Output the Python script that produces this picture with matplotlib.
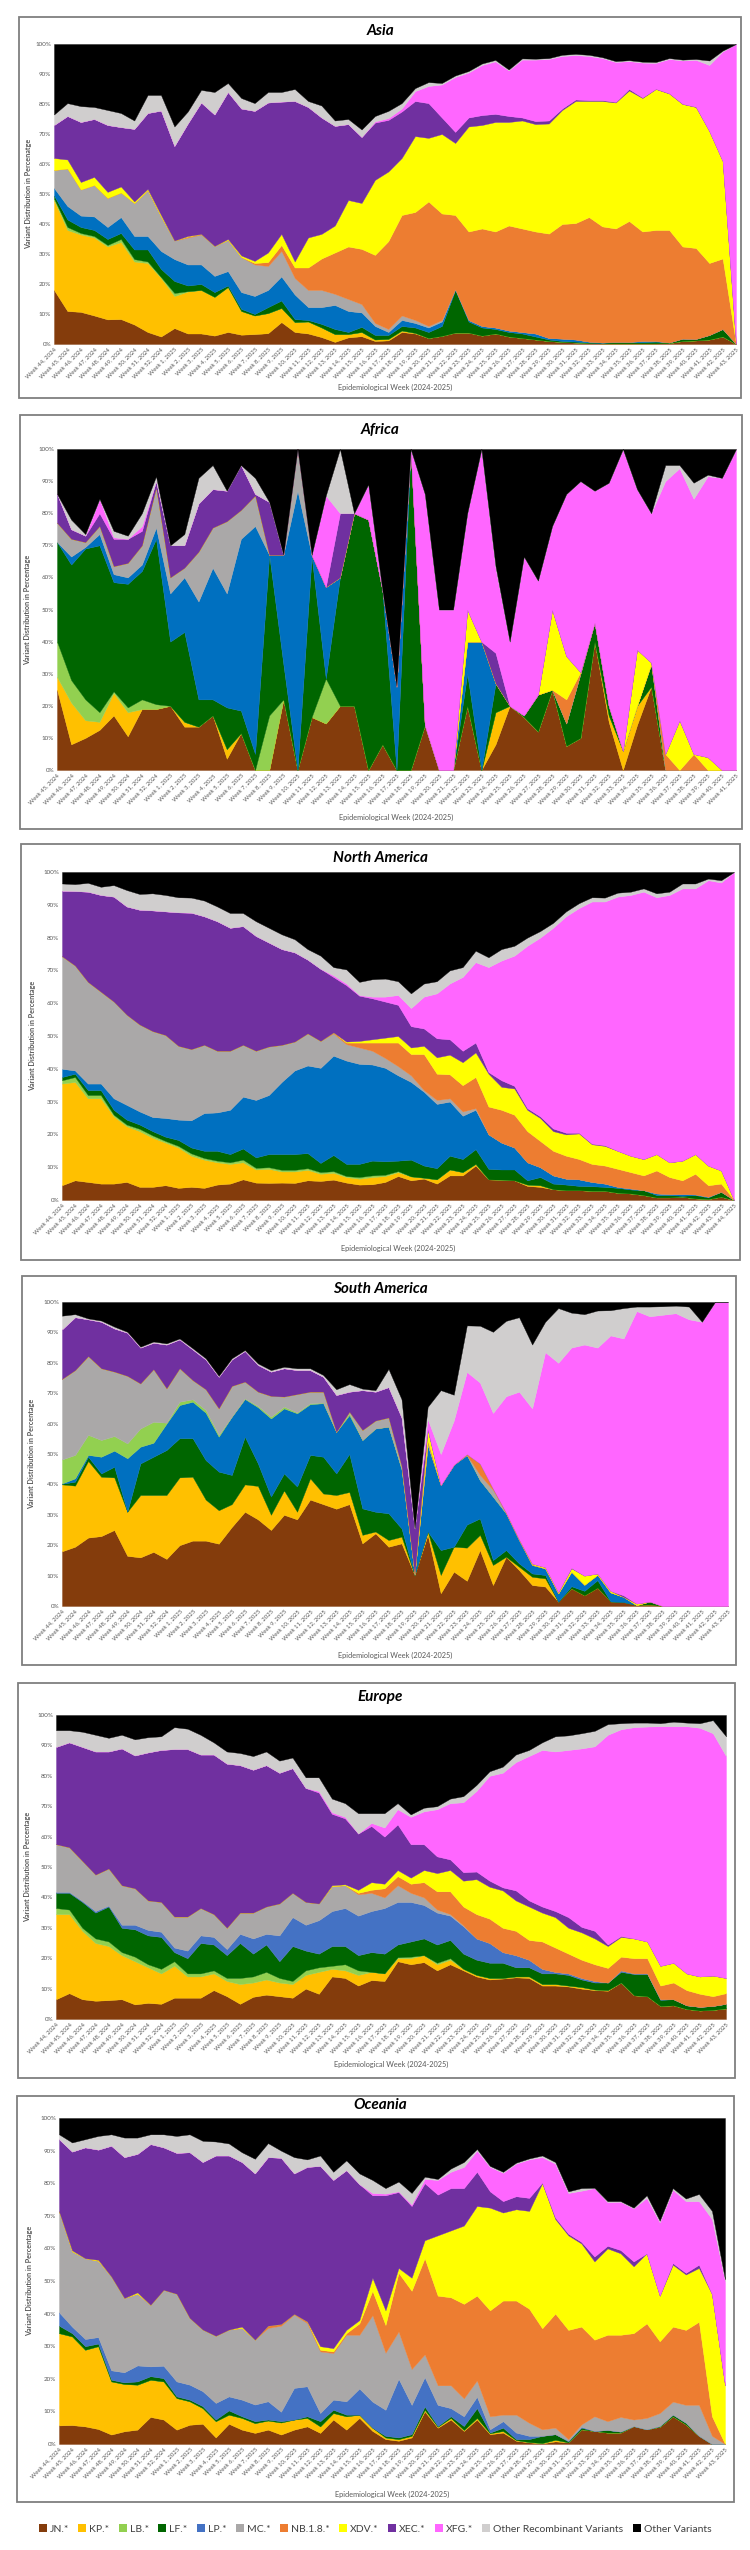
import matplotlib
matplotlib.use("Agg")
import matplotlib.pyplot as plt
from matplotlib.patches import Rectangle, Patch

plt.rcParams['font.family'] = ['Lato', 'DejaVu Sans']

SERIES = ['JN.*', 'KP.*', 'LB.*', 'LF.*', 'LP.*', 'MC.*', 'NB.1.8.*', 'XDV.*',
          'XEC.*', 'XFG.*', 'Other Recombinant Variants', 'Other Variants']
COLORS = {'JN.*': '#843C0C', 'KP.*': '#FFC000', 'LB.*': '#92D050', 'LF.*': '#006600',
          'LP.*': '#0070C0', 'MC.*': '#AAA8A8', 'NB.1.8.*': '#ED7D31', 'XDV.*': '#FFFF00',
          'XEC.*': '#7030A0', 'XFG.*': '#FF66FF', 'Other Recombinant Variants': '#D0CECE',
          'Other Variants': '#000000'}
LP_LIGHT = '#4472C4'


def week_labels(first_2024, last_2025):
    return ([f'Week {w}, 2024' for w in range(first_2024, 53)] +
            [f'Week {w}, 2025' for w in range(1, last_2025 + 1)])


WEEKS_ASIA = week_labels(44, 43)
WEEKS_AFRICA = week_labels(45, 41)
WEEKS_NAM = week_labels(44, 44)
WEEKS_SAM = week_labels(44, 43)
WEEKS_EUR = week_labels(44, 43)
WEEKS_OCE = week_labels(44, 43)

# ---------------- Asia ----------------
ASIA_JN = [18, 11, 10.7, 9.5, 8.2, 8.3, 6.5, 4, 2.5, 5.3,
           3.5, 3.5, 2.8, 4, 3.1, 3.3, 3.6, 7.3, 4, 3.5,
           2.3, 0.7, 2.2, 2.6, 1, 1.2, 4, 3.5, 2, 2.7,
           3.8, 3.8, 2.8, 3.5, 2.5, 2, 1.5, 1, 0.7, 0.5,
           0.3, 0.2, 0.2, 0.2, 0.2, 0.2, 0.3, 1, 1.2, 1.5,
           2.5, 0]
ASIA_KP = [30, 27, 25.8, 26, 24.3, 25.7, 21, 23, 19.5, 10.7,
           14, 14.5, 12.9, 15, 7.9, 6.2, 6.7, 4.7, 3.3, 4,
           3.2, 2.6, 1.1, 1.4, 0.5, 0.5, 0.5, 0.2, 0, 0,
           0, 0, 0, 0, 0, 0, 0, 0, 0, 0,
           0, 0, 0, 0, 0, 0, 0, 0, 0, 0,
           0, 0]
ASIA_LB = [0.5, 1, 0.5, 0.5, 0.5, 1, 0.8, 0.5, 0.3, 1,
           0.1, 0, 0, 0, 0, 0, 0, 0, 0, 0,
           0, 0, 0, 0, 0, 0, 0, 0, 0, 0,
           0, 0, 0, 0, 0, 0, 0, 0, 0, 0,
           0, 0, 0, 0, 0, 0, 0, 0, 0, 0,
           0, 0]
ASIA_LF = [1, 2.5, 2, 2, 2, 2, 3.2, 4, 2.7, 4,
           1.9, 2, 1.6, 0.5, 0.7, 0.5, 2, 2.5, 1, 0.5,
           1.2, 1.7, 0.7, 1.7, 1.5, 1.3, 1.5, 1.8, 2, 3.3,
           14.2, 3.7, 2.7, 1.5, 1.5, 1.5, 1, 0.5, 0.3, 0.3,
           0.2, 0.2, 0.4, 0.4, 0.4, 0.6, 0.2, 0.8, 0.5, 1.5,
           2.5, 0]
ASIA_LP = [2.5, 4.5, 3.8, 4.5, 4, 5.3, 4.5, 4.5, 6, 7.3,
           7, 6.5, 5.4, 4.8, 5.6, 6, 5.7, 8, 8.2, 4.3,
           5.6, 8, 7, 4.8, 3, 1, 2, 1.5, 1.5, 1.5,
           0.3, 0.5, 0.5, 0.5, 0.5, 0.5, 1, 0.5, 0.8, 0.7,
           0.3, 0.1, 0.1, 0.1, 0.4, 0.2, 0, 0, 0, 0,
           0, 0]
ASIA_MC = [6, 12.5, 8.7, 10.5, 9.7, 8.2, 11, 15.3, 11.5, 6.2,
           9, 10, 10, 10.4, 11.7, 10.5, 8, 8.5, 5.5, 5.7,
           5.7, 3.7, 4, 2.8, 1, 1, 1.5, 1, 0.5, 0.5,
           0, 0, 0, 0, 0, 0, 0, 0, 0, 0,
           0, 0, 0, 0, 0, 0, 0, 0, 0, 0,
           0, 0]
ASIA_NB = [0, 0, 0, 0, 0, 0, 0, 0, 0, 0,
           0.3, 0.2, 0, 0, 0, 0.5, 1.3, 2, 3.5, 7.5,
           10.5, 13.8, 17.5, 18.4, 22.7, 29.3, 33.5, 36, 41.5, 35.5,
           24.7, 29.5, 32.5, 32, 35, 34.5, 34, 34.8, 38.2, 38.8,
           41.5, 38.7, 37.8, 40.3, 36.5, 37, 37.5, 30.7, 30.3, 24,
           23.5, 0]
ASIA_XDV = [4, 3, 2.5, 2.7, 2, 2, 0.5, 0.4, 0.5, 0,
            0.2, 0, 0, 0.3, 0.5, 0.7, 3.2, 3.7, 2, 10,
            8.2, 9, 15.5, 15.3, 25, 23.2, 19, 25.3, 21.2, 26.5,
            24, 35, 34.5, 36.5, 34.5, 36, 35.8, 36.7, 38, 40.7,
            38.7, 41.8, 42, 43.5, 44.5, 47, 45.5, 47.5, 47, 44,
            32.5, 0]
ASIA_XEC = [11, 14.5, 20, 19.3, 22.3, 19.8, 24.2, 25.3, 34.8, 31.5,
            37.5, 43.8, 43.8, 49, 49, 50, 50, 44.1, 53.5, 43.5,
            38.8, 33.2, 25.3, 22, 19.1, 17.2, 15.5, 11.7, 11.6, 5.5,
            3.7, 3, 3.3, 2.7, 2, 1, 1, 1, 0.5, 0.5,
            0.3, 0.3, 0.2, 0.5, 0.2, 0.1, 0.1, 0.1, 0.1, 0,
            0, 0]
ASIA_XFG = [0, 0, 0, 0, 0, 0, 0, 0, 0, 0,
            0, 0, 0, 0, 0, 0, 0, 0, 0, 0,
            0, 0, 0, 0, 0.4, 0.6, 1, 3.3, 5.7, 11,
            18.3, 15, 16.7, 17.5, 15.2, 19.3, 20.5, 20.5, 17.5, 14.8,
            14.7, 14, 13.3, 9.3, 11.6, 8.6, 11.4, 14.4, 15.6, 22,
            36.5, 100]
ASIA_OR = [3.5, 4.3, 5.3, 4, 5, 4.7, 2.8, 6, 5.2, 6.5,
           4, 4.2, 7.5, 3, 3.5, 2.6, 3.5, 3.2, 4, 2,
           4, 1.8, 1.7, 2.5, 1.8, 2.4, 1.8, 1, 1.3, 0.5,
           0.5, 0.5, 0.5, 0.5, 0.3, 0.4, 0.3, 0.3, 0.4, 0.4,
           0.4, 0.3, 0.3, 0.3, 0.3, 0.3, 0.3, 0.3, 0.3, 1.5,
           0.3, 0]
ASIA_OTH = [23.5, 19.7, 20.7, 21, 22, 23, 25.5, 17, 17, 27.5,
            22.5, 15.3, 16, 13, 18, 19.7, 16, 16, 15, 19,
            20.5, 25.5, 25, 28.5, 24, 22.3, 19.7, 14.7, 12.7, 13,
            10.5, 9, 6.5, 5.3, 8.5, 4.8, 4.9, 4.7, 3.6, 3.3,
            3.6, 4.4, 5.7, 5.4, 5.9, 6, 4.7, 5.2, 5, 5.5,
            2.2, 0]

# ---------------- Africa ----------------
AFR_JN = [25, 8, 10, 12.5, 17, 10.5, 19, 19, 20, 13.5,
          13.5, 17, 3.5, 11.5, 0, 0, 22, 0, 16.5, 14.5,
          20, 20, 0, 8, 0, 0, 14, 0, 0, 20,
          0, 8, 20, 16.5, 12, 25, 7.5, 10, 40, 15,
          0, 14, 26, 0, 0, 0, 0, 0, 0]
AFR_KP = [4, 13, 5.5, 2.5, 7, 7.5, 0, 0, 0, 1.5,
          0, 0, 3, 0, 0, 0, 0, 0, 0, 0,
          0, 0, 0, 0, 0, 0, 0, 0, 0, 0,
          0, 10, 0, 0, 0, 0, 0, 0, 0, 2,
          6, 6, 0, 0, 0, 0, 0, 0, 0]
AFR_LB = [11, 7, 6.5, 3, 0.5, 1.5, 3, 1.5, 0, 0,
          0, 0, 0, 0, 0, 17, 0, 0, 0, 14,
          0, 0, 0, 0, 0, 0, 0, 0, 0, 0,
          0, 0, 0, 0, 0, 0, 0, 0, 0, 0,
          0, 0, 0, 0, 0, 0, 0, 0, 0]
AFR_LF = [31, 36, 47, 52, 34, 38.5, 40, 51.5, 20, 28,
          8.5, 5, 13, 7, 5, 50, 11, 0, 50, 0,
          40, 60, 78, 48, 0, 100, 0, 0, 0, 10,
          0, 9, 0, 0.5, 11.5, 0, 7, 20, 6, 3,
          0, 0, 7, 0, 0, 0, 0, 0, 0]
AFR_LP = [0, 2.5, 0.5, 3.5, 2.5, 2, 2, 3.5, 15, 17,
          30.5, 41, 35.5, 53.5, 71, 0, 34, 87, 0.5, 28.5,
          0, 0, 0, 0, 26, 0, 0, 0, 0, 10,
          40, 0, 0, 0, 0, 0, 0, 0, 0, 0,
          0, 0, 0, 0, 0, 0, 0, 0, 0]
AFR_MC = [6, 5.5, 1.5, 2.5, 2.5, 4.5, 6, 12.5, 5, 3,
          15.5, 12.5, 22.5, 9, 9.5, 0, 0, 13, 0, 0,
          0, 0, 0, 0, 0, 0, 0, 0, 0, 0,
          0, 0, 0, 0, 0, 0, 0, 0, 0, 0,
          0, 0, 0, 0, 0, 0, 0, 0, 0]
AFR_NB = [0, 0, 0, 0, 0, 0, 0, 0, 0, 0,
          0, 0, 0, 0, 0, 0, 0, 0, 0, 0,
          0, 0, 0, 0, 0, 0, 0, 0, 0, 0,
          0, 0, 0, 0, 0, 0, 7.5, 0.5, 0, 0,
          0, 0, 0, 5, 0, 5, 0, 0, 0]
AFR_XDV = [0, 0, 0, 0, 0, 0, 0, 0, 0, 0,
           0, 0, 0, 0, 0, 0, 0, 0, 0, 0,
           0, 0, 0, 0, 0, 0, 0, 0, 0, 10,
           0, 0, 0, 0, 0, 25, 13.5, 0, 0, 0,
           0, 17.5, 0.5, 0, 15.5, 0, 4, 0, 0]
AFR_XEC = [9, 3, 2, 4, 8.5, 7.5, 4.5, 2, 10, 7,
           15, 12, 9.5, 14, 0.5, 16.5, 0, 0, 0, 0,
           20, 0, 0, 0, 0, 0, 0, 0, 0, 0,
           0, 9.5, 0, 0, 0, 0, 0, 0, 0, 0,
           0, 0, 0, 0, 0, 0, 0, 0, 0]
AFR_XFG = [0, 0, 0, 4.5, 0.5, 0, 1.5, 0, 0, 0,
           0, 0, 0, 0, 0, 0, 0, 0, 0, 28.5,
           0, 0, 11, 0, 0, 0, 72, 50, 50, 30,
           60, 26.5, 20, 49.5, 35.5, 26, 50.5, 59.5, 41, 69.5,
           94, 50, 46.5, 85, 78.5, 79.5, 87.5, 91, 100]
AFR_OR = [0, 3, 0.5, 0, 2, 1, 4, 1.5, 0, 3.5,
          8, 7.5, 0, 0, 5, 0, 0, 0, 0, 0,
          20, 0, 0, 0, 0, 0, 0, 0, 0, 0,
          0, 0.5, 0, 0, 0, 0, 0, 0, 0, 0,
          0, 0, 0, 5, 1, 5, 0.5, 0, 0]
AFR_OTH = [14, 22, 26.5, 15.5, 25.5, 27, 20, 8.5, 30, 26.5,
           9, 5, 13, 5, 9, 16.5, 33, 0, 33, 14.5,
           0, 20, 11, 44, 74, 0, 14, 50, 50, 20,
           0, 36.5, 60, 33.5, 41, 24, 14, 10, 13, 10.5,
           0, 12.5, 20, 5, 5, 10.5, 8, 9, 0]

# ---------------- North America ----------------
NAM_JN = [4.5, 6, 5.5, 5, 5, 5.5, 4, 4, 4.5, 3.7,
          4, 3.7, 4.7, 5, 6.3, 5.3, 5.2, 5.3, 5.2, 6,
          5.8, 6.2, 5.3, 4.7, 4.8, 5.5, 7.3, 6, 6.5, 5,
          7.5, 7.5, 10.5, 6.3, 6.2, 6, 4.3, 4, 3.3, 3,
          3, 2.8, 2.8, 2.2, 2, 1.5, 0.8, 0.8, 1, 0.5,
          0.3, 1, 0]
NAM_KP = [31, 30, 25.5, 26, 20.5, 17, 17, 15, 13, 12.3,
          9.5, 8.6, 6.8, 6, 5.2, 4, 4.3, 3.4, 3.5, 3.2,
          2.2, 2.1, 1.7, 1.8, 2.2, 1.8, 1.2, 1.2, 0.3, 1.3,
          1.8, 1, 0.5, 0, 0, 0, 0.4, 0.5, 0, 0,
          0, 0, 0, 0, 0, 0, 0, 0, 0, 0,
          0, 0, 0]
NAM_LB = [1, 1.5, 1, 1, 0.5, 0.5, 0.7, 0.7, 0.5, 0.5,
          0.7, 0.5, 0.5, 0.5, 0.8, 0.5, 0.5, 0.5, 0.5, 0.5,
          0.5, 0.5, 0.3, 0.5, 0.5, 0.4, 0.3, 0, 0, 0,
          0, 0, 0, 0, 0, 0, 0, 0, 0, 0,
          0, 0, 0, 0, 0, 0, 0, 0, 0, 0,
          0, 0, 0]
NAM_LF = [1, 1, 1.5, 1.5, 1.5, 1.5, 1.3, 1.3, 1.3, 1.8,
          1.8, 2.2, 3, 2.5, 3.4, 3.2, 4, 4.8, 4.8, 4.6,
          2.8, 4.9, 3.7, 4, 4.5, 4.1, 3.2, 5.1, 3.7, 3.4,
          4.2, 4, 4.5, 3.2, 3.1, 3.3, 1.3, 2.5, 1.7, 1.7,
          1.3, 1.4, 1.2, 1.5, 1.2, 1.5, 0.7, 0.7, 0.3, 1,
          0.5, 1.5, 0]
NAM_LP = [2.5, 1, 2, 2, 3.5, 4.5, 4, 4.3, 5.7, 6.2,
          8.3, 11.5, 11.7, 13.5, 15.8, 17.5, 18, 22, 25.5, 26.7,
          29, 30.3, 31.5, 30.5, 29.3, 28.5, 26, 23.7, 22.5, 19.6,
          16.5, 13.2, 12, 10.5, 8.2, 6.7, 5.5, 3, 2.5, 1.8,
          2, 1.3, 1, 0.3, 0.3, 0, 0.5, 0.3, 0.5, 0.2,
          0.2, 0, 0]
NAM_MC = [34.3, 32, 31, 28, 29.5, 27.5, 26.5, 26.2, 25.3, 22.5,
          21.7, 20.8, 18.8, 18, 15.8, 15, 14.8, 11.3, 8.8, 9.8,
          8.2, 6.8, 5, 5, 4.2, 3, 2.8, 2, 0.5, 1.2,
          1, 1.3, 0.5, 0, 0, 0, 0, 0, 0, 0,
          0, 0, 0, 0, 0, 0, 0, 0, 0, 0,
          0, 0, 0]
NAM_NB = [0, 0, 0, 0, 0, 0, 0, 0, 0, 0,
          0, 0, 0, 0, 0, 0, 0, 0, 0, 0,
          0, 0.3, 0.5, 1.5, 2.5, 4.7, 7.2, 6.5, 11, 8,
          7.3, 8, 9.5, 8.5, 10, 10, 9.5, 8, 7.5, 7,
          6.2, 5.5, 5.5, 5.5, 5, 4.5, 7, 5.2, 4.2, 6.3,
          3.5, 2.5, 0]
NAM_XDV = [0, 0, 0, 0, 0, 0, 0, 0, 0, 0,
           0, 0, 0, 0, 0, 0, 0, 0, 0, 0,
           0, 0, 0.3, 0.5, 1, 1.5, 2, 2, 2.5, 5,
           6, 7, 7.5, 10, 7, 8, 6.5, 7, 6, 6.5,
           7.8, 6, 6, 5.5, 5, 5, 5, 4.5, 6, 6,
           6, 4, 0]
NAM_XEC = [20, 22.7, 27.5, 29.5, 32, 33, 35, 36.8, 37.7, 40.7,
           41.6, 39.2, 39.5, 37.5, 36.2, 35, 31.7, 29.2, 27.2, 22.5,
           22, 16.9, 17.2, 13.8, 12.5, 11, 9.5, 6.5, 5.3, 5.8,
           4.7, 3.5, 3, 0.5, 2, 0.8, 0.5, 0.5, 0.8, 0.5,
           0.2, 0.2, 0.2, 0, 0, 0, 0, 0, 0, 0,
           0, 0, 0]
NAM_XFG = [0, 0, 0, 0, 0, 0, 0, 0, 0, 0,
           0, 0, 0, 0, 0, 0, 0, 0, 0, 0,
           0, 0.5, 0.5, 0.2, 0.5, 1.5, 3, 5.5, 9.7, 13.7,
           17, 22.5, 24.5, 32, 36.5, 39.7, 49.5, 54.5, 61.2, 66,
           68.5, 73.8, 74.3, 77.5, 79.5, 81.5, 78.3, 81.5, 83, 81,
           87, 87.8, 100]
NAM_OR = [2.2, 2.1, 2.7, 2.5, 3.5, 5, 4.8, 5.2, 5, 4.6,
          4.6, 4.8, 4.5, 4.5, 4, 4.5, 4.5, 4.5, 4, 3.2,
          4, 2.5, 4.3, 4, 5.3, 5.5, 4.2, 4.5, 4, 3.7,
          4, 3, 3.5, 3, 3.5, 3, 2.5, 2, 1.5, 1.5,
          1.5, 1.3, 1.2, 1.2, 1, 1, 1.2, 1, 1.5, 1.5,
          0.5, 0.7, 0]
NAM_OTH = [3.5, 3.7, 3.3, 4.5, 4, 5.5, 6.7, 6.5, 7, 7.7,
           7.8, 8.7, 10.5, 12.5, 12.5, 15, 17, 19, 20.5, 23.5,
           25.5, 29, 29.7, 33.5, 32.7, 32.5, 33.3, 37, 34, 33.3,
           30, 29, 24, 26, 23.5, 22.5, 20, 18, 15.5, 12,
           9.5, 7.7, 7.8, 6.3, 6, 5, 6.5, 6, 3.5, 3.5,
           2, 2.5, 0]

# ---------------- South America ----------------
SAM_JN = [18, 19.5, 22.5, 23, 25, 16.5, 16, 17.8, 15.5, 20,
          21.5, 21.5, 20.5, 26, 31, 28.5, 25, 30, 28.5, 35,
          33.5, 32, 33.5, 20.6, 23.9, 19.5, 20.6, 10.2, 23.4, 4.2,
          11.3, 8.3, 18.4, 6.9, 16.2, 11.8, 6.9, 6.4, 1.4, 5.8,
          3.5, 6, 1.5, 1.3, 0.3, 0.5, 0, 0, 0, 0,
          0, 0]
SAM_KP = [22, 20.1, 25.2, 19.5, 17.3, 14.5, 20.5, 18.7, 21, 22.3,
          21, 13.5, 11, 7.5, 9, 11, 5, 8, 2.5, 7,
          3.5, 4.5, 4, 2.8, 0.6, 2.2, 2.2, 0, 1.1, 6,
          8.2, 10.9, 5, 6.6, 0, 1.1, 2.7, 2.7, 0, 0,
          0, 0, 0, 0, 0, 0, 0, 0, 0, 0,
          0, 0]
SAM_LF = [0.2, 1.3, 1.4, 1.1, 3.5, 0, 10.4, 12.6, 14.8, 12.9,
          12.7, 13, 12.7, 9.6, 15.7, 7.4, 6, 5.6, 8.3, 7.7,
          12.1, 7.1, 12.5, 8.7, 6.5, 8.8, 2.7, 0, 0, 8.2,
          0, 7.6, 5.4, 1.6, 2.2, 1.1, 1.1, 1.1, 0, 0.7,
          1.5, 2.5, 0, 0, 0, 1, 0, 0, 0, 0,
          0, 0]
SAM_LP = [0.1, 1.1, 0.6, 5.5, 5.3, 17.6, 5.5, 4.6, 8.7, 10.9,
          12, 15.6, 11.5, 19.2, 12.4, 18.5, 25.7, 21.4, 24.1, 16.7,
          17.6, 13.7, 12.8, 22.5, 27.4, 28.5, 19.5, 0.3, 28.5, 21.4,
          27, 22.9, 12.6, 20.9, 12.1, 7.7, 2.8, 2.2, 2.8, 4.8,
          2, 1.8, 3, 1.7, 0, 0, 0, 0, 0, 0,
          0, 0]
SAM_LB = [7.9, 7.7, 6.6, 5.5, 4.8, 4.9, 6, 6.9, 0.3, 1.1,
          0.8, 0.9, 0.6, 0, 0.2, 0.4, 0.6, 0.6, 0.3, 0.3,
          0.2, 0, 0.6, 0, 0, 0, 0, 0, 0, 0,
          0, 0, 0, 0, 0, 0, 0, 0, 0, 0,
          0, 0, 0, 0, 0, 0, 0, 0, 0, 0,
          0, 0]
SAM_MC = [26.5, 27.9, 25.9, 23.6, 21.2, 22.2, 14.8, 17.3, 11.3, 11,
          6.3, 6.8, 8.7, 10.1, 5.5, 4.7, 6.8, 3.3, 6, 3.8,
          3.6, 0, 0.5, 3.3, 2.6, 3, 1, 0, 0.5, 0,
          0, 0, 1.7, 2.2, 0, 0, 0, 0, 0, 0,
          0, 0, 0, 0, 0, 0, 0, 0, 0, 0,
          0, 0]
SAM_NB = [0, 0, 0, 0, 0, 0, 0, 0, 0, 0,
          0, 0, 0, 0, 0, 0, 0, 0, 0, 0,
          0, 0, 0, 0, 0, 0, 0, 0, 1, 0,
          0, 0.3, 3.8, 0.5, 0.3, 0.3, 0.2, 0, 0, 0,
          0, 0, 0, 0, 0, 0, 0, 0, 0, 0,
          0, 0]
SAM_XDV = [0, 0, 0, 0, 0, 0, 0, 0, 0, 0,
           0, 0, 0, 0, 0, 0, 0, 0, 0, 0,
           0, 0, 0, 0, 0, 0, 0, 0, 3.5, 0,
           0, 0, 0, 0, 0, 0, 0.3, 0.4, 0.4, 1.1,
           3, 0.4, 0.5, 0, 0.5, 0, 0, 0, 0, 0,
           0, 0]
SAM_XEC = [16.3, 17.4, 12.1, 15.3, 14.2, 14.2, 11.8, 8.7, 14.4, 9.5,
           10.1, 9.8, 10.4, 8.7, 10.1, 8.8, 8, 9.3, 7.9, 7.1,
           4.9, 12.1, 6.6, 13.1, 9.5, 10, 16, 15, 0.3, 0,
           0, 0, 0, 0, 0, 0, 0, 0, 0, 0.2,
           0, 0, 0, 0.5, 0, 0, 0, 0, 0, 0,
           0, 0]
SAM_XFG = [0, 0, 0, 0, 0, 0, 0, 0, 0, 0,
           0, 0, 0, 0, 0, 0, 0, 0, 0, 0,
           0, 0, 0, 0, 0, 0, 0, 0, 3.2, 10.2,
           14.5, 27, 26.6, 24.8, 38.2, 48.5, 51, 70.7, 75.4, 72.4,
           76, 74.3, 84, 84.5, 96.2, 93.8, 95.8, 96.3, 94.3, 93.5,
           100, 100]
SAM_OR = [4.5, 1, 0.3, 0.4, 0.6, 0.3, 0.3, 0.4, 0.4, 0.3,
          0.4, 0.4, 0.3, 0.4, 0.3, 0.5, 0.5, 0.5, 0.6, 0.6,
          0.6, 1.9, 2.5, 0.5, 0.5, 6, 6, 0, 4, 21,
          8.5, 15.3, 18.7, 26.7, 24.8, 24.5, 21, 10, 18, 11.5,
          10, 12.2, 8.3, 10, 1.5, 3.2, 2.8, 2.5, 4.2, 0,
          0, 0]
SAM_OTH = [4.5, 4, 5.4, 6.1, 8.1, 9.8, 14.7, 13, 13.6, 12,
           15.2, 18.5, 24.3, 18.5, 15.8, 20.2, 22.4, 21.3, 21.8, 21.8,
           24, 28.7, 27, 28.5, 29, 22, 32, 74.5, 34.5, 29,
           30.5, 7.7, 7.8, 9.8, 6.2, 5, 14, 6.5, 2, 3.5,
           4, 2.8, 2.7, 2, 1.5, 1.5, 1.4, 1.2, 1.5, 6.5,
           0, 0]

# ---------------- Europe ----------------
EUR_JN = [6.5, 8.5, 6.5, 6, 6.2, 6.5, 4.8, 5.3, 5, 7,
          7, 7, 9.5, 7.5, 5, 7.3, 8, 7.5, 7, 10,
          8.3, 14, 13.5, 11, 12.8, 12.5, 19, 18, 18.7, 16,
          18, 16, 14, 13, 13.3, 13.7, 13.5, 11, 11, 10.7,
          10, 9.5, 9.3, 12, 7.8, 7.5, 4.3, 4.5, 3.3, 2.8,
          3, 3.5]
EUR_KP = [28, 26, 22.5, 19, 17.8, 14.5, 14.2, 11.7, 10, 10.5,
          7, 7, 5.5, 5, 6.5, 4.7, 5, 4.5, 4.5, 4.5,
          7.2, 2.5, 2.5, 3.5, 2.7, 2.5, 1, 2, 2.3, 2,
          1.5, 0.5, 0.5, 0.5, 0.2, 0.3, 0.5, 0.5, 0.5, 0.3,
          0.5, 0.2, 0.2, 0, 0, 0, 0, 0, 0, 0,
          0, 0]
EUR_LB = [2, 1.5, 1, 1.5, 1.5, 1, 1.5, 1, 1.5, 1.5,
          1, 1, 1, 1, 2, 2, 2.5, 1.5, 1, 1.5,
          1.5, 1, 2, 1.5, 0, 0, 0.3, 0.5, 0, 0.5,
          0.5, 0, 0, 0, 0, 0, 0, 0, 0, 0,
          0, 0, 0, 0, 0, 0, 0, 0, 0, 0,
          0, 0]
EUR_LF = [5, 5.5, 8.5, 8.5, 11.5, 8, 9, 9.5, 10.5, 3,
          5, 10, 8.5, 7.5, 11.5, 7.5, 9, 5.5, 11.5, 6.5,
          4.5, 6.5, 6, 5, 6.5, 6.5, 4.2, 5, 5.5, 6,
          6, 5, 5, 5, 5, 3, 3, 3.5, 3.5, 3.5,
          2.5, 2.3, 2.5, 3.5, 7, 7.3, 2, 2, 1.2, 1.2,
          1.3, 1.5]
EUR_LP = [0.3, 0.3, 0.3, 0.5, 0.3, 1, 1.5, 1.8, 1.7, 1.5,
          2.5, 2.5, 2.5, 2, 3, 5, 3.5, 8.5, 9.5, 8.5,
          11, 11.5, 12.5, 13, 13.5, 15, 14, 13, 11, 10.5,
          8, 9, 7, 6.5, 3.5, 4, 2.5, 1.5, 0.5, 0.5,
          0.5, 0.5, 0, 0.5, 0.2, 0.2, 0.2, 0, 0, 0,
          0, 0]
EUR_MC = [15.7, 14.7, 13.2, 12, 12.2, 13, 12, 9.7, 9.8, 10.2,
          11.2, 9, 7.5, 7, 7, 8.5, 9, 10.5, 8, 7.5,
          5.5, 8.2, 7.5, 7, 6, 3.5, 5.5, 3, 2.5, 1,
          0.5, 0.3, 0, 0, 0, 0, 0, 0, 0, 0,
          0, 0, 0, 0, 0, 0, 0, 0, 0, 0,
          0, 0]
EUR_NB = [0, 0, 0, 0, 0, 0, 0, 0, 0, 0,
          0, 0, 0, 0, 0, 0, 0, 0, 0, 0,
          0, 0, 0, 0.5, 1, 3, 3, 3, 5, 6,
          7.5, 6.2, 8, 8, 8, 8, 6.5, 9, 8, 6.5,
          6, 5.5, 4.8, 4.5, 5, 5, 4.5, 5.5, 5, 4.3,
          3.2, 3.5]
EUR_XDV = [0, 0, 0, 0, 0, 0, 0, 0, 0, 0,
           0, 0, 0, 0, 0, 0, 0, 0, 0, 0,
           0, 0.3, 0.3, 1, 2.5, 1.5, 2, 2, 4, 6,
           7, 8.5, 11.5, 10.5, 12.3, 10, 11, 9.5, 10, 8.5,
           9, 8.5, 7.2, 6.5, 6.5, 5.5, 6.5, 6.5, 5.5, 5.7,
           6.8, 5]
EUR_XEC = [32, 34.5, 37.5, 40.5, 38.5, 45, 43.7, 48.7, 50, 55.1,
           55.1, 50.5, 52.5, 54, 48.5, 47, 46.5, 43, 41, 37.5,
           36.5, 23.5, 21.7, 18.5, 18.5, 15.5, 15, 11, 8.5, 5.5,
           3.5, 2.8, 2.5, 2, 1, 3.3, 2, 2, 2, 3.5,
           1.8, 2.5, 0.5, 0.3, 0, 0, 0, 0, 0, 0,
           0, 0]
EUR_XFG = [0, 0, 0, 0, 0, 0, 0, 0, 0, 0,
           0, 0, 0, 0, 0, 0, 0, 0, 0, 0,
           0.5, 0.5, 0.5, 0, 1, 3, 5, 9, 10.8, 15.5,
           18.5, 23, 26.5, 34.5, 37.7, 42.2, 47.5, 51.5, 52.5, 55,
           58.7, 60.7, 69, 68, 69.5, 70.7, 78.8, 77.8, 81.3, 81.8,
           79.7, 73]
EUR_OR = [5.5, 4, 5, 5.5, 4.5, 4.5, 5.3, 5, 4.5, 7.2,
          6.7, 6.5, 4, 4, 4, 4.5, 4.5, 4, 3.5, 3.5,
          4.5, 4.5, 4.5, 6.7, 3.2, 4.7, 2, 0.8, 1.2, 1,
          1.5, 2, 2, 1.5, 2, 2.5, 2, 2.5, 5, 4.8,
          5, 5.1, 3.5, 2, 1.5, 1.3, 1, 1.5, 1.2, 1.5,
          4.3, 6.5]
EUR_OTH = [5, 5, 5.5, 6.5, 7.5, 6.5, 8, 7.3, 7, 4,
           4.5, 6.5, 9, 12, 12.5, 13.5, 12, 15, 14, 20.5,
           20.5, 27.5, 29, 32.3, 32.3, 32.3, 29, 32.7, 30.5, 30,
           27.5, 26.7, 23, 18.5, 17, 13, 11.5, 9, 7, 6.7,
           6, 5.2, 3, 2.7, 2.5, 2.5, 2.7, 2.2, 2.5, 2.7,
           1.7, 7]

# ---------------- Oceania ----------------
OCE_JN = [5.7, 5.8, 5.4, 4.6, 2.9, 3.9, 4.4, 8.3, 7.5, 4.4,
          5.9, 6.2, 2, 6.2, 4.4, 3.4, 4.4, 2.9, 4.4, 5.4,
          3.4, 7.5, 4.4, 8, 4, 1.5, 1, 2, 10, 5,
          7.5, 4, 7.5, 3, 3.5, 1, 0.5, 0.2, 0.8, 0.5,
          4.5, 4, 3.5, 3.5, 5.5, 4.5, 5.3, 8.5, 6, 2.5,
          0, 0]
OCE_KP = [28.3, 27.2, 23.5, 25.4, 16.3, 14.5, 13.8, 11.4, 11.7, 9.7,
          7.2, 4.8, 5, 2.8, 3.6, 3, 2.8, 3.7, 3.1, 2.6,
          2, 2, 4.1, 1, 1, 0.5, 0.5, 0.5, 0.5, 0.3,
          0.5, 0.3, 0.5, 0.3, 0.5, 0.2, 0.1, 0.1, 0.5, 0,
          0, 0, 0, 0, 0, 0, 0, 0, 0, 0,
          0, 0]
OCE_LB = [0, 0, 0, 0, 0, 0, 0, 0, 0, 0,
          0, 0, 0, 0, 0, 0, 0, 0, 0, 0,
          0, 0, 0, 0, 0, 0, 0, 0, 0, 0,
          0, 0, 0, 0, 0, 0, 0, 0, 0, 0,
          0, 0, 0, 0, 0, 0, 0, 0, 0, 0,
          0, 0]
OCE_LF = [2.3, 1, 1.1, 0.8, 0.5, 0.5, 1, 1.1, 1, 0.5,
          0.5, 0.6, 0.5, 1.3, 0.5, 0.6, 0.3, 0.4, 0, 0.5,
          1.6, 1, 0.5, 0, 0, 0.5, 0.5, 0.5, 1, 0.2,
          0.5, 1.2, 3, 0.2, 1, 0.3, 0.9, 2.2, 1.7, 0.3,
          0.5, 0, 0.8, 0.3, 0, 0, 0.2, 0.5, 0.5, 0,
          0, 0]
OCE_LP = [4.1, 2, 2.2, 2, 2.9, 3.1, 4.9, 3, 3.8, 4.6,
          4.6, 4.6, 5.1, 4.3, 5.1, 5.1, 5.6, 2.9, 9.7, 9.2,
          2.5, 3.1, 4.1, 8, 8, 8, 18, 9, 9, 6.5,
          2.5, 3, 3.5, 1, 2, 2, 1, 0, 0, 0.2,
          0.3, 0, 0, 0, 0, 0, 0, 0, 0, 0,
          0, 0]
OCE_MC = [31, 23.1, 24.8, 23.4, 28.8, 22.8, 22, 18.9, 23.3, 26.9,
          20.5, 18.9, 20.6, 20.5, 22, 19.9, 22.5, 26.4, 22.5, 19.4,
          18.9, 14.3, 20.4, 16.5, 26.5, 17.5, 14.5, 11, 7, 6,
          7, 5.5, 5, 4, 2, 5.5, 4, 2, 2, 0.5,
          0.7, 4.5, 2.7, 4.5, 2, 3.5, 4, 4, 5.5, 9.5,
          2.5, 0]
OCE_NB = [0, 0, 0, 0, 0, 0, 0, 0, 0, 0,
          0, 0, 0, 0, 0, 0, 0.7, 0.5, 0.2, 0.5,
          0.5, 0.5, 0.5, 3.5, 7.5, 8.5, 18, 24, 29.5, 27.5,
          27, 29, 26, 32.5, 35, 35, 35, 31, 35, 33.5,
          30, 23.5, 26.5, 25.2, 26.5, 29, 22, 23, 23, 25.5,
          6, 0]
OCE_XDV = [0, 0.3, 0, 0.3, 0, 0, 0.4, 0, 0, 0,
           0, 0, 0, 0, 0.4, 0, 0, 0, 0, 0,
           1.1, 1, 1, 1, 4, 4.5, 1.5, 4, 5.5, 18.5,
           20.5, 24, 27.5, 31.5, 27, 28, 30, 44.5, 29, 29,
           25.5, 24, 26.5, 25, 20.5, 21.5, 14, 19, 17, 16.5,
           37.5, 18]
OCE_XEC = [22.1, 30.3, 34, 33.8, 40.1, 43.2, 42.5, 49.3, 43.7, 43.2,
           50.8, 51.4, 55.3, 53.4, 50.5, 51, 51.7, 51, 43.1, 47.4,
           55.3, 51.6, 49, 41.7, 25.3, 35.3, 23.3, 22, 17.5, 12.5,
           13, 11.5, 10.5, 5, 3.5, 4, 4, 0.2, 0.5, 0.5,
           0.5, 1.5, 0.8, 1, 1.5, 0, 0, 0.5, 0.5, 1,
           0, 0]
OCE_XFG = [0, 0, 0, 0, 0, 0, 0, 0, 0, 0,
           0, 0, 0, 0, 0, 0, 0, 0, 0, 0,
           0, 0, 0, 0, 0.7, 0.5, 0.2, 0.5, 1.3, 4.5,
           5, 6.5, 6.5, 7.5, 8.7, 10, 11.8, 7.8, 16.5, 12.5,
           15.7, 21, 13.4, 14.8, 16.3, 17, 22.5, 22.5, 22, 19.5,
           23, 32]
OCE_OR = [1.5, 2.8, 2.5, 4.2, 3.5, 6, 5, 3, 4, 5.2,
          5.5, 6.5, 4.3, 3.7, 3, 4.5, 4.3, 2.2, 5, 2.3,
          3.2, 2.5, 3, 3.3, 4, 1.7, 3, 3.5, 0.7, 0.3,
          1, 1.5, 0.5, 0.3, 0.3, 0.3, 0.3, 0.5, 0.5, 0.5,
          0.8, 0.1, 0.3, 0.2, 0.2, 0.8, 0.5, 0.5, 0.8, 2.2,
          2.5, 0.5]
OCE_OTH = [5, 7.5, 6.5, 5.5, 5, 6, 6, 5, 5, 5.5,
           5, 7, 7.2, 7.8, 10.5, 12.5, 7.7, 10, 12, 12.7,
           11.5, 16.5, 13, 17, 19, 21.5, 19.5, 23, 18, 18.7,
           15.5, 13.5, 9.5, 14.7, 16.5, 13.7, 12.4, 11.5, 13.5, 22.5,
           21.5, 21.4, 25.5, 25.5, 27.5, 23.7, 31.5, 21.5, 24.7, 23.3,
           28.5, 49.5]

STD_ORDER = SERIES
SAM_ORDER = ['JN.*', 'KP.*', 'LF.*', 'LP.*', 'LB.*', 'MC.*', 'NB.1.8.*', 'XDV.*',
             'XEC.*', 'XFG.*', 'Other Recombinant Variants', 'Other Variants']


def pack(jn, kp, lb, lf, lp, mc, nb, xdv, xec, xfg, orv, oth):
    return dict(zip(SERIES, [jn, kp, lb, lf, lp, mc, nb, xdv, xec, xfg, orv, oth]))


PANELS = [
    dict(title='Asia', weeks=WEEKS_ASIA, order=STD_ORDER, lp=COLORS['LP.*'],
         ylabel='Variant Distribution in Percenatge',
         data=pack(ASIA_JN, ASIA_KP, ASIA_LB, ASIA_LF, ASIA_LP, ASIA_MC, ASIA_NB,
                   ASIA_XDV, ASIA_XEC, ASIA_XFG, ASIA_OR, ASIA_OTH),
         frame=(19, 17, 741, 398), plot=(54, 44, 736, 344), ty=31, xly=387, ylx=29),
    dict(title='Africa', weeks=WEEKS_AFRICA, order=STD_ORDER, lp=COLORS['LP.*'],
         ylabel='Variant Distribution in Percentage',
         data=pack(AFR_JN, AFR_KP, AFR_LB, AFR_LF, AFR_LP, AFR_MC, AFR_NB,
                   AFR_XDV, AFR_XEC, AFR_XFG, AFR_OR, AFR_OTH),
         frame=(20, 415, 742, 829), plot=(57, 449, 736, 770), ty=430, xly=817, ylx=28),
    dict(title='North America', weeks=WEEKS_NAM, order=STD_ORDER, lp=COLORS['LP.*'],
         ylabel='Variant Distribution in Percentage',
         data=pack(NAM_JN, NAM_KP, NAM_LB, NAM_LF, NAM_LP, NAM_MC, NAM_NB,
                   NAM_XDV, NAM_XEC, NAM_XFG, NAM_OR, NAM_OTH),
         frame=(21, 844, 740, 1260), plot=(62, 872, 734, 1200), ty=858, xly=1248, ylx=33),
    dict(title='South America', weeks=WEEKS_SAM, order=SAM_ORDER, lp=COLORS['LP.*'],
         ylabel='Variant Distribution in Percentage',
         data=pack(SAM_JN, SAM_KP, SAM_LB, SAM_LF, SAM_LP, SAM_MC, SAM_NB,
                   SAM_XDV, SAM_XEC, SAM_XFG, SAM_OR, SAM_OTH),
         frame=(22, 1276, 736, 1665), plot=(62, 1302, 728, 1606), ty=1289, xly=1655, ylx=32),
    dict(title='Europe', weeks=WEEKS_EUR, order=STD_ORDER, lp=LP_LIGHT,
         ylabel='Variant Distribution in Percentage',
         data=pack(EUR_JN, EUR_KP, EUR_LB, EUR_LF, EUR_LP, EUR_MC, EUR_NB,
                   EUR_XDV, EUR_XEC, EUR_XFG, EUR_OR, EUR_OTH),
         frame=(18, 1683, 735, 2078), plot=(56, 1715, 726, 2019), ty=1697, xly=2064, ylx=28),
    dict(title='Oceania', weeks=WEEKS_OCE, order=STD_ORDER, lp=LP_LIGHT,
         ylabel='Variant Distribution in Percentage',
         data=pack(OCE_JN, OCE_KP, OCE_LB, OCE_LF, OCE_LP, OCE_MC, OCE_NB,
                   OCE_XDV, OCE_XEC, OCE_XFG, OCE_OR, OCE_OTH),
         frame=(17, 2096, 734, 2502), plot=(59, 2118, 725, 2444), ty=2105, xly=2494, ylx=30),
]

W, H = 750, 2550
fig = plt.figure(figsize=(W / 100, H / 100), dpi=100)
fig.patch.set_facecolor('white')

GRAY = '#595959'

for p in PANELS:
    fx0, fy0, fx1, fy1 = p['frame']
    fig.add_artist(Rectangle((fx0 / W, 1 - fy1 / H), (fx1 - fx0) / W, (fy1 - fy0) / H,
                             transform=fig.transFigure, facecolor='white',
                             edgecolor='#7F7F7F', linewidth=1.3, zorder=0))
    px0, py0, px1, py1 = p['plot']
    ax = fig.add_axes([px0 / W, 1 - py1 / H, (px1 - px0) / W, (py1 - py0) / H])
    ax.set_facecolor('white')
    n = len(p['weeks'])
    x = list(range(n))
    cols = [p['lp'] if s == 'LP.*' else COLORS[s] for s in p['order']]
    polys = ax.stackplot(x, *[p['data'][s] for s in p['order']], colors=cols)
    for poly, c in zip(polys, cols):
        poly.set_edgecolor(c)
        poly.set_linewidth(0.25)
    ax.set_xlim(0, n - 1)
    ax.set_ylim(0, 100)
    ax.set_yticks(range(0, 101, 10))
    ax.set_yticklabels([f'{v}%' for v in range(0, 101, 10)], fontsize=4.5, color=GRAY)
    ax.set_xticks(x)
    ax.set_xticklabels(p['weeks'], rotation=45, ha='right', rotation_mode='anchor',
                       fontsize=4.3, color=GRAY)
    ax.tick_params(axis='both', length=0, pad=2)
    for sp in ax.spines.values():
        sp.set_visible(False)
    fig.text(380 / W, 1 - p['ty'] / H, p['title'], ha='center', va='center',
             fontsize=11, fontweight='bold', fontstyle='italic', color='black')
    fig.text((px0 + px1) / 2 / W, 1 - p['xly'] / H, 'Epidemiological Week (2024-2025)',
             ha='center', va='center', fontsize=5.3, color=GRAY)
    fig.text(p['ylx'] / W, 1 - (py0 + py1) / 2 / H, p['ylabel'], ha='center', va='center',
             rotation=90, fontsize=5.2, fontweight='bold', color=GRAY)

handles = [Patch(facecolor=(LP_LIGHT if s == 'LP.*' else COLORS[s]), edgecolor='none')
           for s in SERIES]
fig.legend(handles, SERIES, loc='center', bbox_to_anchor=(0.5, 1 - 2529 / H), ncol=12,
           frameon=False, fontsize=7.5, handlelength=0.75, handleheight=0.75,
           handletextpad=0.3, columnspacing=0.9, labelcolor='#404040')

fig.savefig('out.png', dpi=100, facecolor='white')
